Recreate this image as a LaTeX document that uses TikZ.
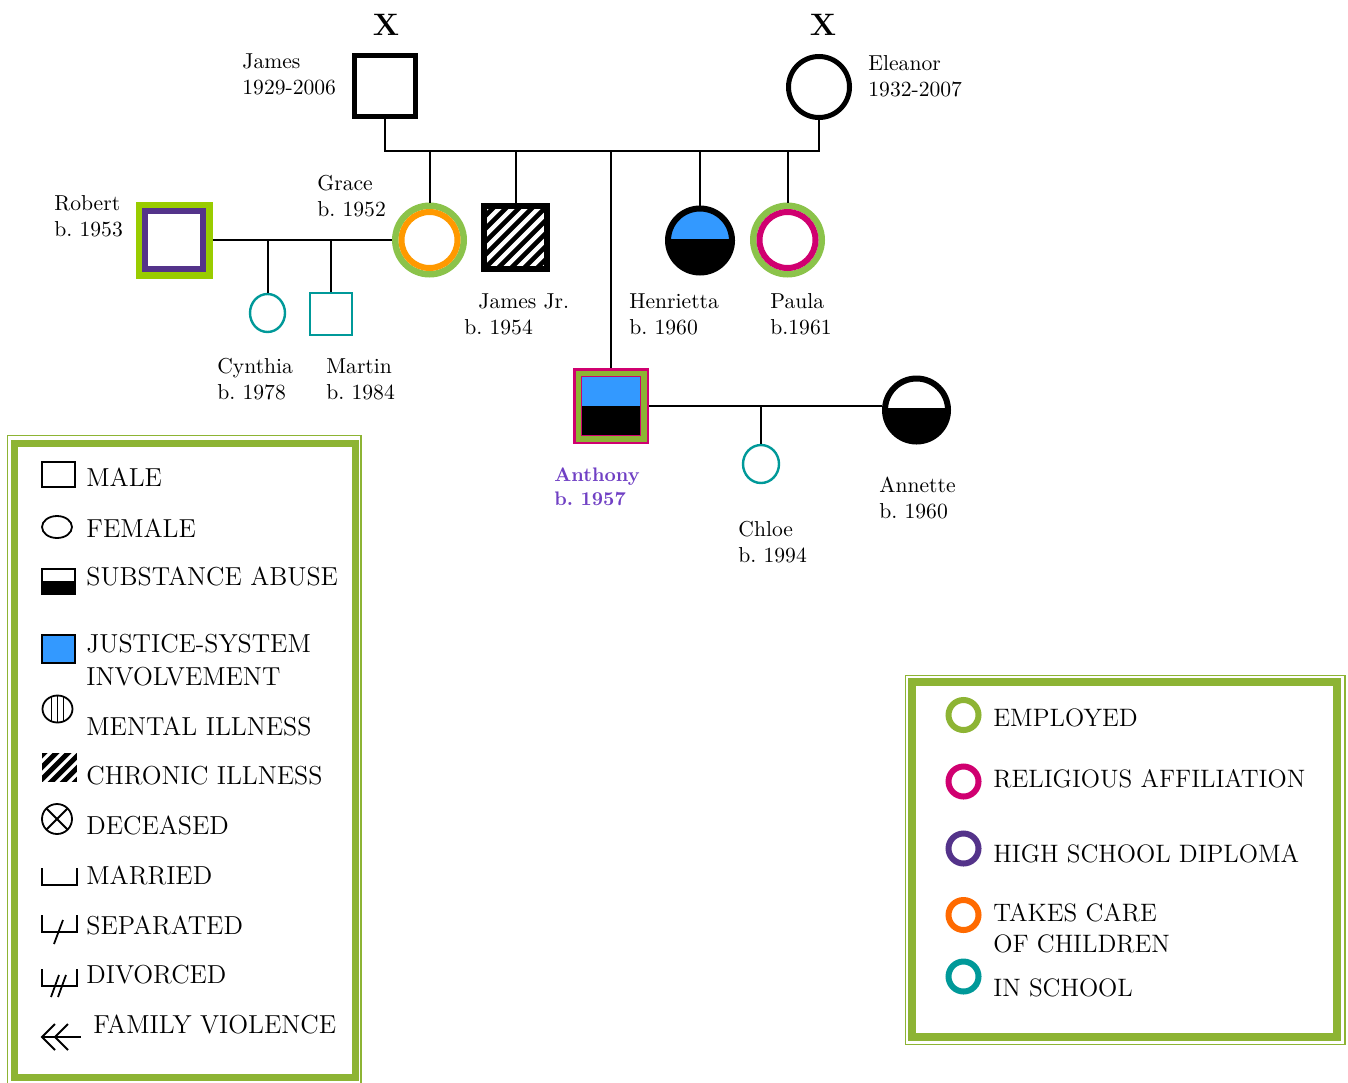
\documentclass[tikz,border=0pt]{standalone}
\usepackage{tikz}
\usetikzlibrary{calc,shapes.geometric}

\definecolor{empgreen}{RGB}{141,180,52}
\definecolor{ringgreen}{RGB}{139,195,74}
\definecolor{limegreen}{RGB}{153,204,0}
\definecolor{relmagenta}{RGB}{208,0,112}
\definecolor{hspurple}{RGB}{84,51,138}
\definecolor{careorange}{RGB}{255,106,0}
\definecolor{amber}{RGB}{255,153,0}
\definecolor{schoolteal}{RGB}{0,153,153}
\definecolor{jsblue}{RGB}{51,153,255}
\definecolor{namepurple}{RGB}{112,64,196}

\tikzset{
  conn/.style={line width=1pt},
  male/.style={draw, rectangle, fill=white, inner sep=0pt},
  female/.style={draw, circle, fill=white, inner sep=0pt},
  founder/.style={line width=2.5pt, minimum size=30.5pt},
  kid/.style={draw=schoolteal, line width=1.2pt, fill=white, inner sep=0pt},
  lbl/.style={anchor=base west, inner sep=0pt, align=left, font=\fontsize{10.8}{13}\selectfont},
  keytext/.style={anchor=base west, inner sep=0pt, align=left, font=\fontsize{13}{16.5}\selectfont},
  keytextb/.style={anchor=base west, inner sep=0pt, align=left, font=\fontsize{12.6}{15.5}\selectfont},
  keysym/.style={line width=0.9pt},
  keyring/.style={draw=#1, circle, line width=3pt, minimum size=15pt, inner sep=0pt},
  deadmark/.style={font=\fontsize{15.5}{15.5}\bfseries\selectfont, inner sep=0pt},
}

\begin{document}
\frenchspacing
\begin{tikzpicture}[x=0.5pt, y=-0.5pt]
  \useasboundingbox (0,0) rectangle (1348,1082);

  % legend frames
  \begin{scope}
    \clip (0,0) rectangle (1348,1082);
    \draw[empgreen, line width=0.75pt] (7.5,435.5) rectangle (361,1100);
    \draw[empgreen, line width=3.5pt] (14.5,443.5) rectangle (355,1077.5);
  \end{scope}
  \draw[empgreen, line width=0.75pt] (905.5,675.5) rectangle (1345,1044.5);
  \draw[empgreen, line width=4pt] (912,682) rectangle (1336.5,1036.5);

  % grandparents
  \node[male, founder] (james) at (385,85.5) {};
  \node[female, founder] (eleanor) at (819,87) {};
  \node[deadmark] (xjames) at (386,25) {X};
  \node[deadmark] (xeleanor) at (823,25) {X};

  % their children
  \node[female, draw=ringgreen, line width=3.25pt, minimum size=34.25pt] (grace) at (429.5,240) {};
  \draw[amber, line width=3pt] (grace.center) circle[radius=28];

  \node[male, line width=3pt, minimum size=31.5pt, path picture={
      \foreach \k in {-5,...,5}
        \draw[line width=2.3pt] ($(path picture bounding box.center)+(\k*13-40,40)$) -- +(80,-80);
    }] (jamesjr) at (515.5,237.5) {};

  \node[female, line width=3pt, minimum size=32pt, path picture={
      \fill[jsblue] (path picture bounding box.north west) rectangle ([yshift=1pt]path picture bounding box.east);
      \fill[black] ([yshift=1pt]path picture bounding box.west) rectangle (path picture bounding box.south east);
    }] (henrietta) at (700,240.5) {};

  \node[female, draw=ringgreen, line width=3.25pt, minimum size=34.25pt] (paula) at (787.5,240) {};
  \draw[relmagenta, line width=3pt] (paula.center) circle[radius=28];

  \node[male, draw=relmagenta, fill=empgreen, line width=1.25pt, minimum size=36.75pt] (anthony) at (611,406) {};
  \fill[jsblue] ($(anthony.center)+(-29.5,-29.5)$) rectangle ($(anthony.center)+(29.5,0)$);
  \fill[black] ($(anthony.center)+(-29.5,0)$) rectangle ($(anthony.center)+(29.5,29.5)$);
  \draw[relmagenta, line width=0.6pt] ($(anthony.center)+(-29.5,-29.5)$) rectangle ($(anthony.center)+(29.5,29.5)$);

  % spouses
  \node[male, draw=limegreen, line width=3.35pt, minimum size=35.15pt] (robert) at (174,240) {};
  \draw[hspurple, line width=3pt] ($(robert.center)+(-28.8,-28.8)$) rectangle ($(robert.center)+(28.8,28.8)$);

  \node[female, line width=3pt, minimum size=31.5pt, path picture={
      \fill[black] ([yshift=1pt]path picture bounding box.west) rectangle (path picture bounding box.south east);
    }] (annette) at (916.5,410) {};

  % grandchildren
  \node[kid, ellipse, minimum width=17.5pt, minimum height=19pt] (cynthia) at (267.5,313) {};
  \node[kid, rectangle, minimum size=21pt] (martin) at (331,314) {};
  \node[kid, ellipse, minimum width=18pt, minimum height=19pt] (chloe) at (761,464) {};

  % lines
  \coordinate (sibbar) at (600,151);
  \draw[conn] (james) -- (james |- sibbar) -| (eleanor);
  \foreach \kid in {grace,jamesjr,anthony,henrietta,paula}
    \draw[conn] (\kid) -- (\kid |- sibbar);
  \draw[conn] (robert) -- (grace);
  \foreach \kid in {cynthia,martin}
    \draw[conn] (\kid) -- (\kid |- robert);
  \draw[conn] (anthony) -- (anthony -| annette.west);
  \draw[conn] (chloe) -- (chloe |- anthony);

  % names (base = last line)
  \node[lbl] (ljames) at (242,94) {James\\1929-2006};
  \node[lbl] (leleanor) at (868,96) {Eleanor\\1932-2007};
  \node[lbl] (lgrace) at (317,216) {Grace\\b. 1952};
  \node[lbl] (lrobert) at (54,236) {Robert\\b. 1953};
  \node[lbl] (ljamesjr) at (464,334) {\hspace*{7pt}James Jr.\\b. 1954};
  \node[lbl] (lhenrietta) at (629,334) {Henrietta\\b. 1960};
  \node[lbl] (lpaula) at (770,334) {Paula\\b.1961};
  \node[lbl] (lcynthia) at (217,399) {Cynthia\\b. 1978};
  \node[lbl] (lmartin) at (326,399) {Martin\\b. 1984};
  \node[lbl, font=\fontsize{9.8}{12}\bfseries\selectfont, text=namepurple] (lanthony) at (554,505) {Anthony\\b. 1957};
  \node[lbl] (lchloe) at (738,562) {Chloe\\b. 1994};
  \node[lbl] (lannette) at (879,518) {Annette\\b. 1960};

  % first key
  \draw[keysym] (42,462) rectangle (75,487);
  \draw[keysym] (57,527) ellipse[x radius=15, y radius=11];
  \fill (42,581) rectangle (75,594);
  \draw[keysym] (42,569) rectangle (75,594);
  \draw[keysym, fill=jsblue] (42,635) rectangle (75,663);
  \begin{scope}
    \clip (57.5,709) ellipse[x radius=15, y radius=13.5];
    \foreach \dx in {-6,0,6}
      \draw[line width=0.7pt] (57.5+\dx,690) -- (57.5+\dx,730);
  \end{scope}
  \draw[keysym] (57.5,709) ellipse[x radius=15, y radius=13.5];
  \begin{scope}
    \clip (42,753) rectangle (77,782);
    \fill (42,753) rectangle (77,782);
    \foreach \k in {-3,...,3}
      \draw[white, line width=1.6pt] (59.5+\k*12-20,787.5) -- (59.5+\k*12+20,747.5);
  \end{scope}
  \draw[keysym] (57,819) circle[radius=15];
  \draw[keysym] (46.4,808.4) -- (67.6,829.6);
  \draw[keysym] (46.4,829.6) -- (67.6,808.4);
  \draw[keysym] (42,868) |- (77,885) -- (77,868);
  \draw[keysym] (42,915) |- (77,932) -- (77,915);
  \draw[keysym] (63,920) -- (54,944);
  \draw[keysym] (42,969) |- (77,986) -- (77,969);
  \draw[keysym] (59,975) -- (51,997);
  \draw[keysym] (66,975) -- (58,997);
  \draw[keysym] (42,1037) -- (81,1037);
  \draw[keysym] (55,1024) -- (42,1037) -- (55,1050);
  \draw[keysym] (68,1024) -- (55,1037) -- (68,1050);

  \node[keytext] (tmale) at (86,486) {MALE};
  \node[keytext] (tfemale) at (86,537) {FEMALE};
  \node[keytext] (tsubst) at (86,585) {SUBSTANCE ABUSE};
  \node[keytext] (tjustice) at (86,685) {JUSTICE-SYSTEM\\INVOLVEMENT};
  \node[keytext] (tmental) at (86,735) {MENTAL ILLNESS};
  \node[keytext] (tchronic) at (86,784) {CHRONIC ILLNESS};
  \node[keytext] (tdeceased) at (86,834) {DECEASED};
  \node[keytext] (tmarried) at (86,884) {MARRIED};
  \node[keytext] (tseparated) at (86,934) {SEPARATED};
  \node[keytext] (tdivorced) at (86,983) {DIVORCED};
  \node[keytext] (tviolence) at (93,1033) {FAMILY VIOLENCE};

  % second key
  \node[keyring=empgreen] (kemployed) at (963.5,715) {};
  \node[keyring=relmagenta] (kreligious) at (963.5,781.5) {};
  \node[keyring=hspurple] (kdiploma) at (963.5,848.5) {};
  \node[keyring=careorange] (kcare) at (963.5,915) {};
  \node[keyring=schoolteal] (kschool) at (963.5,976.5) {};

  \node[keytextb] (temployed) at (993,726) {EMPLOYED};
  \node[keytextb] (treligious) at (993,787) {RELIGIOUS AFFILIATION};
  \node[keytextb] (tdiploma) at (993,862) {HIGH SCHOOL DIPLOMA};
  \node[keytextb] (tcare) at (993,952) {TAKES CARE\\OF CHILDREN};
  \node[keytextb] (tschool) at (993,996) {IN SCHOOL};
\end{tikzpicture}
\end{document}
